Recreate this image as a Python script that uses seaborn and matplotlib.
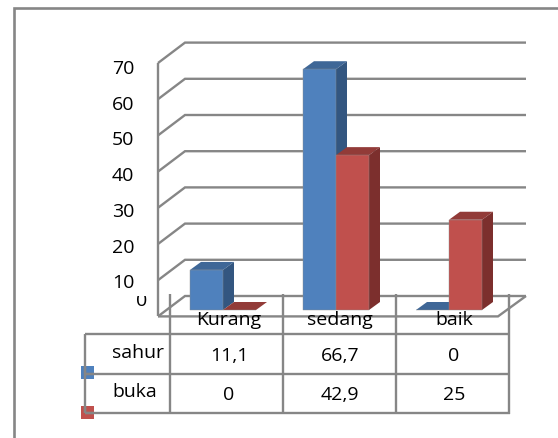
import matplotlib
matplotlib.use("Agg")
import matplotlib.pyplot as plt
import pandas as pd
import seaborn as sns
from matplotlib.patches import Polygon, Rectangle
from matplotlib.transforms import Bbox, IdentityTransform

categories = ["Kurang", "sedang", "baik"]
series_names = ["sahur", "buka"]
sahur = [11.1, 66.7, 0]
buka = [0, 42.9, 25]
value_ticks = [0, 10, 20, 30, 40, 50, 60, 70]
table_sahur = ["11,1", "66,7", "0"]
table_buka = ["0", "42,9", "25"]

W, H = 558, 439
GRAY = "#868686"
FRONT = {"sahur": "#4F81BD", "buka": "#C0504D"}
TOP = {"sahur": "#3F6797", "buka": "#923B38"}
SIDE = {"sahur": "#335680", "buka": "#7C2F2D"}
DEPTH_X, DEPTH_Y = 11, 8
FONT_SIZE = 14

sns.set_theme(style="white")
plt.rcParams["font.family"] = ["Open Sans", "DejaVu Sans"]

fig = plt.figure(figsize=(W / 100, H / 100), dpi=100, facecolor="white")

# Pixel-based layer for the frame, walls, floor and data table
chrome = fig.add_axes([0, 0, 1, 1], zorder=1)
chrome.set_xlim(0, W)
chrome.set_ylim(H, 0)
chrome.axis("off")


def seg(xs, ys, lw=1.7, color=GRAY):
    chrome.plot(xs, ys, color=color, lw=lw, solid_capstyle="butt",
                solid_joinstyle="miter")


seg([13.5, 13.5, W], [H, 9, 9], lw=1.9)

# Walls: front edge of the value axis, then one bent gridline per tick
FRONT_X, BACK_X, RIGHT_X = 158, 185, 526
front_y = lambda v: 317.4 - v * 3.62
back_y = lambda v: 297 - v * 3.62
seg([FRONT_X, FRONT_X], [front_y(70), front_y(0)])
for v in value_ticks:
    seg([FRONT_X, BACK_X, RIGHT_X], [front_y(v), back_y(v), back_y(v)])
seg([FRONT_X, 498, RIGHT_X], [front_y(0), front_y(0), back_y(0)])

# Tick labels on the value axis; the zero label is cut off along its top
for v in value_ticks[1:]:
    chrome.text(134.5, 319.0 - v * 3.57, str(v), ha="right", va="center",
                fontsize=FONT_SIZE, color="black")
zero = chrome.text(147, 301, "0", ha="right", va="center", fontsize=FONT_SIZE,
                   color="black")
zero.set_clip_on(True)
zero.set_clip_box(Bbox([[120, H - 309], [150, H - 297]]))

# Data table grid and its text
col_x = [170, 283, 396, 509]
row_y = [334.5, 374.5, 414.5]
TABLE_LEFT = 85
for y in row_y:
    seg([TABLE_LEFT, col_x[-1] + 1], [y, y])
seg([TABLE_LEFT, TABLE_LEFT], [row_y[0], row_y[-1]])
for x in col_x:
    seg([x, x], [295, row_y[-1] + 0.7])

cat_x = [229, 340, 454]
for x, label in zip(cat_x, categories):
    chrome.text(x, 320.5, label, ha="center", va="center", fontsize=FONT_SIZE,
                color="black", zorder=6)
for x, a, b in zip(cat_x, table_sahur, table_buka):
    chrome.text(x, 356, a, ha="center", va="center", fontsize=FONT_SIZE, color="black")
    chrome.text(x, 395, b, ha="center", va="center", fontsize=FONT_SIZE, color="black")
chrome.text(138, 353, series_names[0], ha="center", va="center", fontsize=FONT_SIZE,
            color="black")
chrome.text(135, 392.5, series_names[1], ha="center", va="center", fontsize=FONT_SIZE,
            color="black")

# Legend keys sit on the left edge of the table
for y, name in zip((367, 407), series_names):
    chrome.add_patch(Rectangle((81, y), 13, 13, facecolor=FRONT[name],
                               edgecolor="none", zorder=1.5))
    seg([TABLE_LEFT, TABLE_LEFT], [y, y + 7.5])
    seg([TABLE_LEFT, 94], [y + 7.5, y + 7.5])

# Bars: seaborn draws the front faces, depth faces are built from them
AX_L, AX_R, AX_B, AX_T = 166.5, 505.5, 311, 311 - 70 * 3.61
ax = fig.add_axes([AX_L / W, 1 - AX_B / H, (AX_R - AX_L) / W, (AX_B - AX_T) / H],
                  zorder=2)
ax.patch.set_alpha(0)

df = pd.DataFrame({
    "category": categories * 2,
    "series": [series_names[0]] * 3 + [series_names[1]] * 3,
    "value": sahur + buka,
})
sns.barplot(data=df, x="category", y="value", hue="series", order=categories,
            hue_order=series_names, palette=FRONT, width=0.584, gap=0, ax=ax,
            legend=False, errorbar=None, saturation=1, edgecolor="#8C8C8C",
            linewidth=0.3, zorder=3)
ax.set_xlim(-0.5, 2.5)
ax.set_ylim(0, 70)
ax.axis("off")
fig.canvas.draw()

bars = [p for p in ax.patches if isinstance(p, Rectangle)]
bar_names = [series_names[0]] * 3 + [series_names[1]] * 3
for order, (bar, name) in enumerate(zip(bars, bar_names)):
    x0, y0 = bar.get_x(), bar.get_y()
    (xa, ya), (xb, yb) = ax.transData.transform(
        [(x0, y0), (x0 + bar.get_width(), y0 + bar.get_height())])
    base_z = 3 + order * 0.1
    top = [(xa, yb), (xb, yb), (xb + DEPTH_X, yb + DEPTH_Y), (xa + DEPTH_X, yb + DEPTH_Y)]
    side = [(xb, ya), (xb + DEPTH_X, ya + DEPTH_Y), (xb + DEPTH_X, yb + DEPTH_Y), (xb, yb)]
    ax.add_patch(Polygon(top, closed=True, facecolor=TOP[name], edgecolor="none",
                         transform=IdentityTransform(), clip_on=False, zorder=base_z))
    ax.add_patch(Polygon(side, closed=True, facecolor=SIDE[name], edgecolor="none",
                         transform=IdentityTransform(), clip_on=False, zorder=base_z))
    bar.set_zorder(base_z + 0.05)
    bar.set_clip_on(False)

fig.savefig("out.png", dpi=100, facecolor="white")
